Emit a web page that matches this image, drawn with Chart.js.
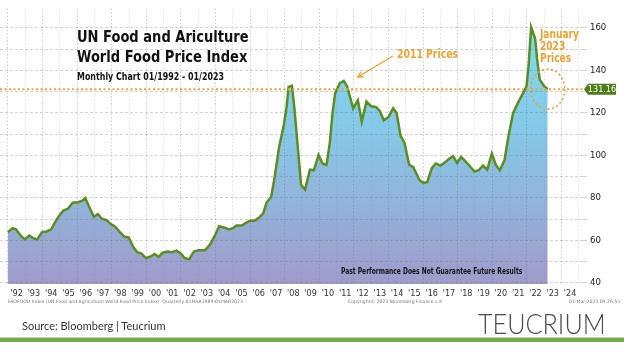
<!DOCTYPE html>
<html>
<head>
<meta charset="utf-8">
<script src="https://cdn.jsdelivr.net/npm/chart.js@4.4.0/dist/chart.umd.min.js"></script>
<style>
  body { margin: 0; background: #fff; }
  #wrap { position: relative; width: 624px; height: 351px; overflow: hidden;
          font-family: 'Liberation Sans Narrow', 'DejaVu Sans Condensed', sans-serif; }
  #c { position: absolute; left: 0; top: 0; }
  .t { position: absolute; white-space: nowrap; transform-origin: 0 0; }
  #title { left: 77px; top: 27px; font-weight: bold; font-size: 16.5px; line-height: 19.5px; color: #111; transform: scaleX(0.88); }
  #sub { left: 77px; top: 70.5px; font-weight: bold; font-size: 10px; line-height: 12px; color: #111; transform: scaleX(0.88); }
  .orange { color: #f6a02d; font-weight: bold; font-size: 12px; }
  #p2011 { left: 397px; top: 47px; line-height: 14px; transform: scaleX(0.86); }
  #pjan { left: 540px; top: 28px; line-height: 12px; transform: scaleX(0.84); }
  #past { left: 341px; top: 267px; font-weight: bold; font-size: 8px; line-height: 10px; color: #111; transform: scaleX(0.83); }
  .foot { top: 299px; font-size: 4.6px; line-height: 6px; color: #777; font-family: 'DejaVu Sans', sans-serif; }
  #source { left: 22px; top: 318.5px; font-family: Lato, sans-serif; font-size: 11px; line-height: 14px; color: #333; }
  #logo { left: 478px; top: 309px; font-family: Lato, sans-serif; font-weight: 300; font-size: 28px; line-height: 28px;
          color: #4a4a4a; transform: scaleX(0.9); }
  #rule { position: absolute; left: 0; top: 337px; width: 624px; height: 1px; background: #c8c8c8; }
  #bar { position: absolute; left: 0; top: 338px; width: 624px; height: 4px; background: #70ad47; }
</style>
</head>
<body>
<div id="wrap">
  <canvas id="c" width="624" height="351"></canvas>
  <div class="t" id="title">UN Food and Ariculture<br>World Food Price Index</div>
  <div class="t" id="sub">Monthly Chart 01/1992 - 01/2023</div>
  <div class="t orange" id="p2011">2011 Prices</div>
  <div class="t orange" id="pjan">January<br>2023<br>Prices</div>
  <div class="t" id="past">Past Performance Does Not Guarantee Future Results</div>
  <div class="t foot" style="left:8px">FAOFOOD Index (UN Food and Agriculture World Food Price Index)&nbsp; Quarterly 01MAR1989-01MAR2023</div>
  <div class="t foot" style="left:348px">Copyright© 2023 Bloomberg Finance L.P.</div>
  <div class="t foot" style="left:569px">01-Mar-2023 09:26:51</div>
  <div class="t" id="source">Source: Bloomberg | Teucrium</div>
  <div class="t" id="logo">TEUCRIUM</div>
  <div id="rule"></div>
  <div id="bar"></div>
</div>
<script>
// data (decimal year, index value)
const years = [1992.00, 1992.27, 1992.46, 1992.73, 1992.97, 1993.23, 1993.46, 1993.69, 1993.97,
  1994.24, 1994.50, 1994.73, 1994.97, 1995.20, 1995.47, 1995.74, 1996.05, 1996.28, 1996.47, 1996.66, 1996.97,
  1997.20, 1997.43, 1997.71, 1997.94, 1998.17, 1998.47, 1998.75, 1998.98, 1999.24, 1999.47, 1999.71, 1999.98,
  2000.21, 2000.48, 2000.71, 2000.94, 2001.25, 2001.48, 2001.75, 2002.02, 2002.21, 2002.48, 2002.75,
  2003.02, 2003.40, 2003.68, 2003.95, 2004.21, 2004.49, 2004.76, 2005.02, 2005.22, 2005.53, 2005.76, 2005.99,
  2006.26, 2006.53, 2006.76, 2006.95, 2007.22, 2007.43, 2007.68, 2007.95,
  2008.11, 2008.23, 2008.42, 2008.57, 2008.72, 2008.95, 2009.18, 2009.46, 2009.69, 2009.96,
  2010.19, 2010.42, 2010.61, 2010.77, 2010.92, 2011.19, 2011.42, 2011.61, 2011.96, 2012.23, 2012.46, 2012.73,
  2013.00, 2013.27, 2013.50, 2013.73, 2014.01, 2014.27, 2014.47, 2014.70, 2014.93, 2015.20, 2015.43, 2015.78,
  2016.01, 2016.24, 2016.51, 2016.74, 2017.01, 2017.24, 2017.51, 2017.74, 2017.97,
  2018.20, 2018.43, 2018.71, 2018.98, 2019.21, 2019.47, 2019.71, 2019.98,
  2020.21, 2020.44, 2020.71, 2020.94, 2021.21, 2021.48, 2021.71, 2021.98,
  2022.10, 2022.25, 2022.48, 2022.60, 2022.75, 2023.02, 2023.21];
const values = [63.9, 65.8, 65.2, 62.3, 60.5, 62.3, 61.1, 60.5, 63.9,
  64.2, 65.2, 68.6, 71.7, 74.0, 74.9, 77.7, 78.0, 78.6, 79.9, 76.4, 71.1,
  72.4, 70.2, 69.5, 67.7, 66.7, 63.9, 61.7, 61.4, 57.0, 54.5, 53.9, 51.7,
  52.3, 53.6, 52.3, 54.2, 54.8, 54.5, 55.2, 53.6, 51.7, 51.1, 54.8,
  55.4, 55.4, 58.0, 62.0, 66.7, 66.1, 65.2, 65.8, 67.0, 67.0, 68.3, 69.3,
  69.3, 70.8, 72.7, 77.7, 80.5, 90.2, 104.0, 114.3,
  122.8, 132.2, 132.8, 121.5, 107.4, 86.1, 83.9, 93.3, 93.0, 100.2,
  96.2, 95.5, 105.9, 120.0, 129.3, 134.0, 135.0, 132.4, 122.1, 125.9, 115.9, 125.3,
  123.1, 122.8, 120.9, 116.5, 118.1, 122.1, 120.0, 109.3, 105.9, 95.5, 94.6, 88.6,
  87.1, 87.4, 94.0, 96.2, 95.2, 96.5, 98.4, 99.6, 96.5,
  99.3, 97.4, 94.9, 92.4, 93.0, 95.2, 93.3, 100.8,
  95.5, 93.0, 97.7, 109.0, 120.0, 124.6, 128.1, 132.4,
  141.8, 160.3, 155.0, 145.0, 135.6, 132.4, 131.16];

const gridYears = [];
for (let y = 1992; y <= 2025; y++) gridYears.push(y);
const yearLabels = gridYears.slice(0, 33);   // '92 .. '24
const yTicks = [40, 50, 60, 70, 80, 90, 100, 110, 120, 130, 140, 150, 160];

const ORANGE = '#f6a02d';
const lastValue = values[values.length - 1];
const xMin = 1991.54, xMax = 2025.25;

Chart.defaults.font.family = "'Liberation Sans Narrow', 'DejaVu Sans Condensed', sans-serif";
Chart.defaults.color = '#222';

const overlay = {
  id: 'overlay',
  afterDatasetsDraw(chart) {
    const { ctx, chartArea, scales: { x, y } } = chart;
    const yy = y.getPixelForValue(lastValue);
    ctx.save();
    ctx.strokeStyle = ORANGE;
    ctx.lineWidth = 2;
    ctx.setLineDash([2, 2.5]);
    ctx.beginPath();
    ctx.moveTo(0, yy);
    ctx.lineTo(chartArea.right + 3, yy);
    ctx.stroke();

    // dotted ring around the latest reading
    const lx = x.getPixelForValue(years[years.length - 1]);
    ctx.lineWidth = 1.6;
    ctx.beginPath();
    ctx.ellipse(lx, yy, 17, 20, 0, 0, Math.PI * 2);
    ctx.stroke();

    // arrow pointing at the 2011 peak
    let pk = 0;
    years.forEach((yr, i) => { if (yr > 2010 && yr < 2012 && values[i] > values[pk]) pk = i; });
    const px = x.getPixelForValue(years[pk]), py = y.getPixelForValue(values[pk]);
    const tx = px + 14, ty = py - 4, sx = px + 49, sy = py - 25;
    ctx.setLineDash([]);
    ctx.lineWidth = 1.3;
    ctx.beginPath();
    ctx.moveTo(sx, sy);
    ctx.lineTo(tx, ty);
    ctx.stroke();
    const ang = Math.atan2(ty - sy, tx - sx);
    ctx.beginPath();
    ctx.moveTo(tx - 6 * Math.cos(ang - 0.5), ty - 6 * Math.sin(ang - 0.5));
    ctx.lineTo(tx, ty);
    ctx.lineTo(tx - 6 * Math.cos(ang + 0.5), ty - 6 * Math.sin(ang + 0.5));
    ctx.stroke();

    // last value tag on the axis
    const bx = chartArea.right + 4;
    ctx.fillStyle = '#4e7d17';
    ctx.beginPath();
    ctx.moveTo(bx - 3, yy);
    ctx.lineTo(bx + 1, yy - 5.5);
    ctx.lineTo(bx + 29, yy - 5.5);
    ctx.lineTo(bx + 29, yy + 5.5);
    ctx.lineTo(bx + 1, yy + 5.5);
    ctx.closePath();
    ctx.fill();
    ctx.fillStyle = '#fff';
    ctx.font = "9px 'Liberation Sans Narrow', 'DejaVu Sans Condensed', sans-serif";
    ctx.textAlign = 'center';
    ctx.textBaseline = 'middle';
    ctx.fillText(lastValue.toFixed(2), bx + 15, yy + 0.5);
    ctx.restore();
  }
};

new Chart(document.getElementById('c'), {
  type: 'line',
  data: {
    datasets: [{
      data: years.map((yr, i) => ({ x: yr, y: values[i] })),
      borderColor: '#5a8f1f',
      borderWidth: 2.5,
      pointRadius: 0,
      tension: 0,
      fill: 'start',
      backgroundColor: function (context) {
        const area = context.chart.chartArea;
        if (!area) return '#8bc2e3';
        const g = context.chart.ctx.createLinearGradient(0, area.top, 0, area.bottom);
        g.addColorStop(0, '#7cdff5');
        g.addColorStop(0.45, '#86c8e7');
        g.addColorStop(1, '#a09bcb');
        return g;
      }
    }]
  },
  options: {
    responsive: false,
    animation: false,
    layout: { padding: { left: 0, right: 0, top: 8, bottom: 51 } },
    plugins: { legend: { display: false }, tooltip: { enabled: false } },
    scales: {
      x: {
        type: 'linear',
        min: xMin,
        max: xMax,
        position: 'bottom',
        afterBuildTicks: (scale) => { scale.ticks = gridYears.map(v => ({ value: v })); },
        afterFit: (scale) => { scale.height = 0; },
        ticks: { display: false },
        grid: {
          z: 1,
          drawTicks: false,
          lineWidth: 1,
          color: (ctx) => ctx.tick && ctx.tick.value % 2 === 0 ? 'rgba(110,110,110,0.35)' : 'rgba(140,140,140,0.25)'
        },
        border: { display: false, dash: [1.5, 2] }
      },
      xl: {
        type: 'linear',
        min: xMin,
        max: xMax,
        position: 'bottom',
        afterBuildTicks: (scale) => { scale.ticks = yearLabels.map(v => ({ value: v + 0.5 })); },
        afterFit: (scale) => { scale.height = 16; },
        grid: { display: false, drawTicks: false },
        border: { display: false },
        ticks: {
          autoSkip: false,
          maxRotation: 0,
          padding: 4,
          font: { size: 9 },
          color: '#333',
          callback: (v) => "'" + String(Math.floor(v) % 100).padStart(2, '0')
        }
      },
      y: {
        position: 'right',
        min: 39.5,
        max: 169,
        afterBuildTicks: (scale) => { scale.ticks = yTicks.map(v => ({ value: v })); },
        afterFit: (scale) => { scale.width = 41; },
        grid: { z: 1, color: 'rgba(110,110,110,0.3)', tickLength: 4 },
        border: { display: false, dash: [3, 2] },
        ticks: {
          padding: 3,
          font: { size: 9.5 },
          color: '#222',
          callback: (v) => v % 20 === 0 ? v : ''
        }
      }
    }
  },
  plugins: [overlay]
});
</script>
</body>
</html>
